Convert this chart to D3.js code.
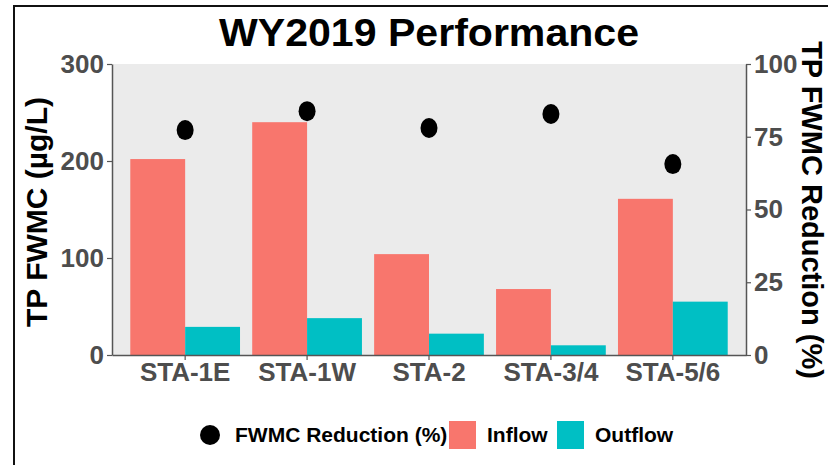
<!DOCTYPE html>
<html>
<head>
<meta charset="utf-8">
<script src="https://cdn.jsdelivr.net/npm/d3@7"></script>
<style>
body { margin: 0; background: #fff; }
svg { display: block; font-family: "Liberation Sans", Arial, sans-serif; }
</style>
</head>
<body>
<div id="chart"></div>
<script>
// data
var stations = ["STA-1E", "STA-1W", "STA-2", "STA-3/4", "STA-5/6"];
var inflow = [202, 240, 104, 68, 161];
var outflow = [29, 38, 22, 10, 55];
var reduction = [77.3, 83.8, 78, 82.8, 65.6];
var leftTicks = [0, 100, 200, 300];
var rightTicks = [0, 25, 50, 75, 100];

var W = 828, H = 465;
var panel = { left: 112, right: 746, top: 64, bottom: 355 };

var svg = d3.select("#chart").append("svg")
	.attr("width", W)
	.attr("height", H);

// frame (top and left only)
svg.append("path")
	.attr("d", "M14," + H + "V6H" + W)
	.attr("fill", "none")
	.attr("stroke", "#111")
	.attr("stroke-width", 2);

// scales
var x = d3.scaleBand()
	.domain(stations)
	.range([panel.left, panel.right])
	.paddingInner(0)
	.paddingOuter(0.1);
var y = d3.scaleLinear().domain([0, 300]).range([panel.bottom, panel.top]);
var y2 = d3.scaleLinear().domain([0, 100]).range([panel.bottom, panel.top]);

// panel background
svg.append("rect")
	.attr("x", panel.left)
	.attr("y", panel.top)
	.attr("width", panel.right - panel.left)
	.attr("height", panel.bottom - panel.top)
	.attr("fill", "#ebebeb");

// bars
var barW = x.bandwidth() * 0.45;
var g = svg.append("g");
g.selectAll("rect.in")
	.data(stations)
	.enter().append("rect")
	.attr("class", "in")
	.attr("x", function(d) { return x(d) + x.bandwidth() / 2 - barW; })
	.attr("y", function(d, i) { return y(inflow[i]); })
	.attr("width", barW)
	.attr("height", function(d, i) { return y(0) - y(inflow[i]); })
	.attr("fill", "#f8766d");
g.selectAll("rect.out")
	.data(stations)
	.enter().append("rect")
	.attr("class", "out")
	.attr("x", function(d) { return x(d) + x.bandwidth() / 2; })
	.attr("y", function(d, i) { return y(outflow[i]); })
	.attr("width", barW)
	.attr("height", function(d, i) { return y(0) - y(outflow[i]); })
	.attr("fill", "#00bfc4");

// reduction points
g.selectAll("ellipse")
	.data(stations)
	.enter().append("ellipse")
	.attr("cx", function(d) { return x(d) + x.bandwidth() / 2; })
	.attr("cy", function(d, i) { return y2(reduction[i]); })
	.attr("rx", 8.5)
	.attr("ry", 10)
	.attr("fill", "#000");

// axes
function styleAxis(sel) {
	sel.select(".domain").attr("stroke", "#555").attr("stroke-width", 1.5);
	sel.selectAll(".tick line").attr("stroke", "#555").attr("stroke-width", 1.2);
	sel.selectAll(".tick text")
		.attr("fill", "#4d4d4d")
		.style("font-size", "26px")
		.style("font-weight", "bold");
}

svg.append("g")
	.attr("transform", "translate(" + panel.left + ",0)")
	.call(d3.axisLeft(y).tickValues(leftTicks).tickSize(5).tickSizeOuter(0).tickPadding(3))
	.call(styleAxis);

svg.append("g")
	.attr("transform", "translate(" + panel.right + ",0)")
	.call(d3.axisRight(y2).tickValues(rightTicks).tickSize(5).tickSizeOuter(0).tickPadding(3))
	.call(styleAxis);

svg.append("g")
	.attr("transform", "translate(0," + panel.bottom + ")")
	.call(d3.axisBottom(x).tickSize(5).tickSizeOuter(0).tickPadding(3))
	.call(styleAxis);

// titles
svg.append("text")
	.attr("x", 429)
	.attr("y", 46)
	.attr("text-anchor", "middle")
	.attr("textLength", 420)
	.attr("lengthAdjust", "spacingAndGlyphs")
	.style("font-size", "38px")
	.style("font-weight", "bold")
	.text("WY2019 Performance");

svg.append("text")
	.attr("transform", "translate(47,212) rotate(-90)")
	.attr("text-anchor", "middle")
	.style("font-size", "30px")
	.style("font-weight", "bold")
	.text("TP FWMC (\u00b5g/L)");

svg.append("text")
	.attr("transform", "translate(802,210) rotate(90)")
	.attr("text-anchor", "middle")
	.style("font-size", "29px")
	.style("font-weight", "bold")
	.text("TP FWMC Reduction (%)");

// legend
var legend = svg.append("g").attr("transform", "translate(0,435)");
legend.append("circle").attr("cx", 210).attr("cy", 0).attr("r", 10).attr("fill", "#000");
legend.append("text").attr("x", 235).attr("y", 7)
	.style("font-size", "21px").style("font-weight", "bold")
	.text("FWMC Reduction (%)");
legend.append("rect").attr("x", 449).attr("y", -14).attr("width", 27).attr("height", 28).attr("fill", "#f8766d");
legend.append("text").attr("x", 487).attr("y", 7)
	.style("font-size", "21px").style("font-weight", "bold")
	.text("Inflow");
legend.append("rect").attr("x", 557).attr("y", -14).attr("width", 27).attr("height", 28).attr("fill", "#00bfc4");
legend.append("text").attr("x", 595).attr("y", 7)
	.style("font-size", "21px").style("font-weight", "bold")
	.text("Outflow");
</script>
</body>
</html>
